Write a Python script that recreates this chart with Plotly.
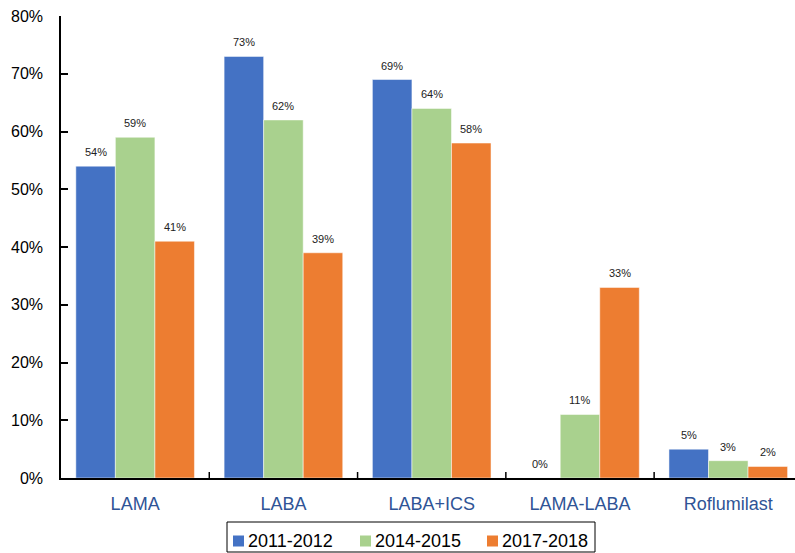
import plotly.graph_objects as go

categories = ["LAMA", "LABA", "LABA+ICS", "LAMA-LABA", "Roflumilast"]
series_names = ["2011-2012", "2014-2015", "2017-2018"]
v_2011 = [54, 73, 69, 0, 5]
v_2014 = [59, 62, 64, 11, 3]
v_2017 = [41, 39, 58, 33, 2]
colors = ["#4472C4", "#A9D18E", "#ED7D31"]
y_ticks = [0, 10, 20, 30, 40, 50, 60, 70, 80]

FONT = "Liberation Sans, Arial, sans-serif"
BARGAP = 0.2
W, H = 795, 553
ML, MR, MT, MB = 61, 0, 16, 75
PW, PH = W - ML - MR, H - MT - MB


def px_x(px):
    return (px - ML) / PW


def px_y(py):
    return (H - MB - py) / PH


fig = go.Figure()
all_vals = [v_2011, v_2014, v_2017]
for name, vals, col in zip(series_names, all_vals, colors):
    fig.add_trace(go.Bar(
        x=list(range(len(categories))), y=vals, name=name,
        marker=dict(color=col, line=dict(color="white", width=0.5)),
        hoverinfo="skip", showlegend=False,
    ))

# value labels above bars
bw = (1 - BARGAP) / len(all_vals)
for si, vals in enumerate(all_vals):
    off = (si - (len(all_vals) - 1) / 2) * bw
    for ci, v in enumerate(vals):
        fig.add_annotation(
            x=ci + off, y=v, xref="x", yref="y",
            text=f"{v}%", showarrow=False, yanchor="middle", yshift=14,
            font=dict(family=FONT, size=11, color="#222222"),
        )

shapes = []
# category boundary ticks on x axis (pointing up)
for b in [0.5, 1.5, 2.5, 3.5]:
    shapes.append(dict(type="line", xref="x", yref="paper", x0=b, x1=b,
                       y0=0, y1=6 / PH, line=dict(color="black", width=1.5)))

# legend box, drawn by hand to match the reference layout
shapes.append(dict(type="rect", xref="paper", yref="paper",
                   x0=px_x(227), x1=px_x(595), y0=px_y(522), y1=px_y(552),
                   line=dict(color="black", width=1), fillcolor="white", layer="below"))
leg_marker_x = [233, 360, 487]
for name, col, mx in zip(series_names, colors, leg_marker_x):
    shapes.append(dict(type="rect", xref="paper", yref="paper",
                       x0=px_x(mx), x1=px_x(mx + 11), y0=px_y(535.5), y1=px_y(546.5),
                       line=dict(width=0), fillcolor=col))
    fig.add_annotation(
        x=px_x(mx + 13), y=px_y(540.5), xref="paper", yref="paper",
        text=name, showarrow=False, xanchor="left", yanchor="middle",
        font=dict(family=FONT, size=18, color="black"),
    )

fig.update_layout(
    width=W, height=H,
    margin=dict(l=ML, r=MR, t=MT, b=MB, autoexpand=False),
    paper_bgcolor="white", plot_bgcolor="white",
    barmode="group", bargap=BARGAP, bargroupgap=0,
    font=dict(family=FONT, color="black"),
    showlegend=False,
    shapes=shapes,
    xaxis=dict(
        tickmode="array", tickvals=list(range(len(categories))), ticktext=categories,
        range=[-0.5, 4.45],
        showline=True, linecolor="black", linewidth=1.5,
        ticks="", showgrid=False, zeroline=False,
        tickfont=dict(family=FONT, size=18, color="rgb(47,84,150)"),
        ticklabelstandoff=9,
    ),
    yaxis=dict(
        range=[0, 80], tickmode="array", tickvals=y_ticks,
        ticktext=[f"{t}%" for t in y_ticks],
        showline=True, linecolor="black", linewidth=1.5,
        ticks="inside", ticklen=7, tickcolor="black", tickwidth=1.5,
        showgrid=False, zeroline=False,
        tickfont=dict(family=FONT, size=16, color="black"),
        ticklabelstandoff=13,
    ),
)

fig.write_html("out.html", config={"displayModeBar": False})

# remove default body margin so the figure sits at the window's top-left
with open("out.html", "r", encoding="utf-8") as f:
    html = f.read()
html = html.replace("<head>", "<head><style>html,body{margin:0;padding:0;overflow:hidden;}</style>", 1)
with open("out.html", "w", encoding="utf-8") as f:
    f.write(html)
